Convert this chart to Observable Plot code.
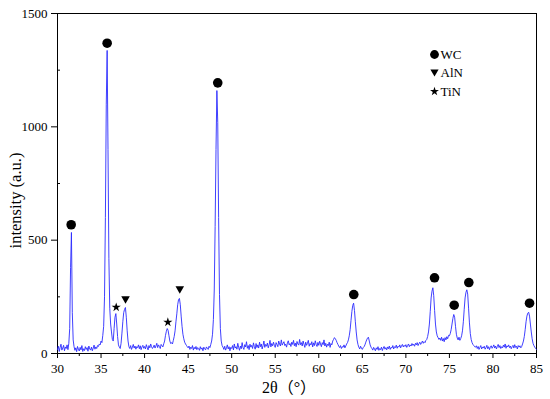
<!DOCTYPE html>
<html>
<head>
<meta charset="utf-8">
<script src="https://cdn.jsdelivr.net/npm/d3@7"></script>
<script src="https://cdn.jsdelivr.net/npm/@observablehq/plot@0.6"></script>
<style>
  html, body { margin: 0; padding: 0; background: white; }
</style>
</head>
<body>
<div id="chart"></div>
<script>
// Sampling grid of the XRD scan (2θ, degrees)
const angleStart = 30;
const angleStep = 0.1;

// Intensity, one row per degree (x.0 ... x.9)
const intensity = [
  18, 32, 9, 27, 41, 15, 24, 36, 12, 29,          // 30
  22, 38, 17, 45, 110, 380, 534, 180, 60, 30,     // 31
  14, 25, 8, 31, 19, 11, 27, 16, 35, 9,           // 32
  21, 13, 30, 18, 26, 10, 33, 20, 15, 28,         // 33
  12, 24, 37, 19, 29, 22, 35, 31, 42, 38,         // 34
  55, 48, 80, 120, 250, 600, 1100, 1337, 900, 420,// 35
  200, 130, 95, 62, 55, 110, 160, 176, 130, 75,   // 36
  38, 28, 22, 45, 90, 140, 180, 195, 203, 160,    // 37
  100, 55, 30, 22, 35, 18, 28, 40, 24, 33,        // 38
  19, 30, 26, 38, 21, 34, 17, 29, 36, 23,         // 39
  31, 20, 39, 27, 16, 35, 25, 42, 30, 22,         // 40
  28, 37, 24, 33, 45, 26, 38, 31, 22, 40,         // 41
  34, 29, 43, 55, 80, 98, 110, 102, 78, 55,       // 42
  44, 48, 42, 58, 75, 100, 140, 175, 215, 238,    // 43
  243, 215, 165, 120, 85, 65, 50, 42, 36, 30,     // 44
  25, 33, 18, 28, 22, 35, 15, 27, 20, 31,         // 45
  17, 26, 22, 14, 30, 19, 25, 12, 28, 21,         // 46
  16, 29, 23, 18, 32, 26, 40, 55, 85, 150,        // 47
  280, 560, 900, 1160, 1020, 600, 260, 110, 55, 35,// 48
  28, 18, 32, 15, 25, 38, 20, 30, 12, 27,         // 49
  22, 35, 16, 42, 24, 30, 19, 45, 27, 14,         // 50
  33, 21, 48, 26, 18, 39, 29, 52, 23, 35,         // 51
  17, 41, 28, 36, 22, 47, 31, 19, 44, 26,         // 52
  38, 24, 50, 30, 42, 20, 35, 55, 27, 40,         // 53
  32, 46, 25, 38, 58, 29, 44, 34, 50, 36,         // 54
  27, 48, 39, 30, 55, 42, 33, 60, 37, 45,         // 55
  52, 35, 41, 28, 47, 56, 38, 44, 31, 50,         // 56
  40, 58, 34, 46, 30, 53, 42, 37, 62, 39,         // 57
  48, 33, 55, 41, 27, 50, 36, 45, 58, 32,         // 58
  44, 38, 52, 29, 47, 35, 56, 40, 31, 49,         // 59
  36, 54, 42, 30, 48, 39, 60, 33, 45, 28,         // 60
  41, 35, 50, 27, 44, 38, 55, 62, 70, 65,         // 61
  58, 48, 40, 32, 26, 35, 22, 30, 28, 38,         // 62
  25, 33, 42, 48, 60, 78, 105, 145, 185, 212,     // 63
  222, 190, 140, 95, 60, 40, 28, 20, 32, 24,      // 64
  18, 26, 30, 38, 50, 60, 68, 72, 55, 38,         // 65
  28, 22, 15, 27, 20, 12, 25, 18, 30, 14,         // 66
  22, 17, 28, 13, 24, 31, 19, 26, 16, 29,         // 67
  21, 33, 18, 27, 24, 35, 20, 30, 26, 37,         // 68
  23, 32, 28, 38, 25, 34, 40, 29, 36, 31,         // 69
  39, 27, 35, 42, 30, 38, 33, 44, 36, 41,         // 70
  32, 45, 38, 48, 35, 43, 50, 40, 47, 55,         // 71
  45, 52, 48, 58, 62, 75, 95, 130, 185, 245,      // 72
  275, 290, 255, 190, 130, 95, 78, 70, 62, 68,    // 73
  58, 72, 55, 66, 52, 70, 60, 74, 65, 80,         // 74
  78, 88, 105, 130, 155, 172, 160, 120, 85, 68,   // 75
  60, 72, 58, 66, 78, 100, 140, 195, 245, 270,    // 76
  281, 262, 200, 135, 88, 62, 48, 40, 35, 30,     // 77
  28, 34, 22, 31, 18, 27, 35, 20, 29, 24,         // 78
  32, 19, 26, 36, 21, 30, 17, 28, 34, 23,         // 79
  29, 38, 24, 33, 20, 31, 40, 26, 35, 22,         // 80
  30, 25, 37, 28, 42, 23, 34, 29, 38, 26,         // 81
  33, 21, 30, 36, 24, 39, 27, 32, 20, 35,         // 82
  28, 34, 25, 31, 42, 55, 75, 105, 140, 165,      // 83
  178, 182, 165, 130, 95, 65, 45, 35, 28, 22,     // 84
  18                                              // 85
];

// Phase markers (2θ and marker height)
const wcAngle  = [31.57, 35.7, 48.4, 64.02, 73.29, 75.55, 77.23, 84.2];
const wcMark   = [568, 1369, 1194, 260, 334, 213, 313, 222];
const alnAngle = [37.81, 44.04];
const alnMark  = [238, 282];
const tinAngle = [36.74, 42.67];
const tinMark  = [204, 138];

// Axis ticks
const xTicks = [30, 35, 40, 45, 50, 55, 60, 65, 70, 75, 80, 85];
const xMinor = [32.5, 37.5, 42.5, 47.5, 52.5, 57.5, 62.5, 67.5, 72.5, 77.5, 82.5];
const yTicks = [0, 500, 1000, 1500];
const yMinor = [250, 750, 1250];

// Legend
const legendLabels = ["WC", "AlN", "TiN"];

const spectrum = intensity.map((v, i) => ({angle: +(angleStart + i * angleStep).toFixed(1), intensity: v}));
const wc  = wcAngle.map((a, i) => ({angle: a, y: wcMark[i]}));
const aln = alnAngle.map((a, i) => ({angle: a, y: alnMark[i]}));
const tin = tinAngle.map((a, i) => ({angle: a, y: tinMark[i]}));

const triangleDown = {
  draw(ctx, size) {
    const w = Math.sqrt(size) * 1.05;
    ctx.moveTo(-w / 2, -w * 0.38);
    ctx.lineTo(w / 2, -w * 0.38);
    ctx.lineTo(0, w * 0.48);
    ctx.closePath();
  }
};

const serif = "'Liberation Serif', serif";
const cjk = "'Liberation Serif', 'Noto Sans CJK SC', serif";

const chart = Plot.plot({
  width: 550,
  height: 399,
  marginLeft: 57,
  marginRight: 14,
  marginTop: 13,
  marginBottom: 46,
  style: {fontFamily: serif, fontSize: "13px", background: "white", color: "black"},
  x: {domain: [30, 85]},
  y: {domain: [0, 1500]},
  marks: [
    Plot.frame({stroke: "black", strokeWidth: 1}),
    Plot.axisX({ticks: xTicks, tickSize: 5, tickPadding: 5, tickFormat: d3.format("d"), label: null, fontSize: 13, fontFamily: serif, stroke: "black"}),
    Plot.axisX({ticks: xMinor, tickSize: 3, tickFormat: () => "", label: null, stroke: "black"}),
    Plot.axisY({ticks: yTicks, tickSize: 6, tickPadding: 4, tickFormat: d3.format("d"), label: null, fontSize: 13, fontFamily: serif, stroke: "black"}),
    Plot.axisY({ticks: yMinor, tickSize: 3, dx: 3, tickFormat: () => "", label: null, stroke: "black"}),
    Plot.line(spectrum, {x: "angle", y: "intensity", stroke: "#2a2aff", strokeWidth: 0.9}),
    Plot.dot(wc,  {x: "angle", y: "y", r: 4.8, fill: "black", symbol: "circle"}),
    Plot.dot(aln, {x: "angle", y: "y", r: 4.6, fill: "black", symbol: triangleDown}),
    Plot.dot(tin, {x: "angle", y: "y", r: 2.9, fill: "black", symbol: "star"}),
    // legend
    Plot.dot([legendLabels[0]], {frameAnchor: "top-left", dx: 377, dy: 41, r: 4.4, fill: "black", symbol: "circle"}),
    Plot.dot([legendLabels[1]], {frameAnchor: "top-left", dx: 377, dy: 59, r: 4.4, fill: "black", symbol: triangleDown}),
    Plot.dot([legendLabels[2]], {frameAnchor: "top-left", dx: 377, dy: 78, r: 2.8, fill: "black", symbol: "star"}),
    Plot.text([legendLabels[0]], {text: d => d, frameAnchor: "top-left", dx: 383, dy: 41, textAnchor: "start", lineAnchor: "middle", fontSize: 13, fontFamily: serif, fill: "black"}),
    Plot.text([legendLabels[1]], {text: d => d, frameAnchor: "top-left", dx: 383, dy: 59, textAnchor: "start", lineAnchor: "middle", fontSize: 13, fontFamily: serif, fill: "black"}),
    Plot.text([legendLabels[2]], {text: d => d, frameAnchor: "top-left", dx: 383, dy: 78, textAnchor: "start", lineAnchor: "middle", fontSize: 13, fontFamily: serif, fill: "black"}),
    // axis titles
    Plot.text(["intensity (a.u.)"], {text: d => d, frameAnchor: "left", dx: -42, dy: 17, rotate: -90, textAnchor: "middle", lineAnchor: "middle", fontSize: 16.5, fontFamily: serif, fill: "black"}),
    Plot.text(["2θ（°）"], {text: d => d, frameAnchor: "bottom", dx: -8, dy: 34, lineAnchor: "middle", fontSize: 16, fontFamily: cjk, fill: "black"})
  ]
});

document.getElementById("chart").appendChild(chart);
</script>
</body>
</html>
